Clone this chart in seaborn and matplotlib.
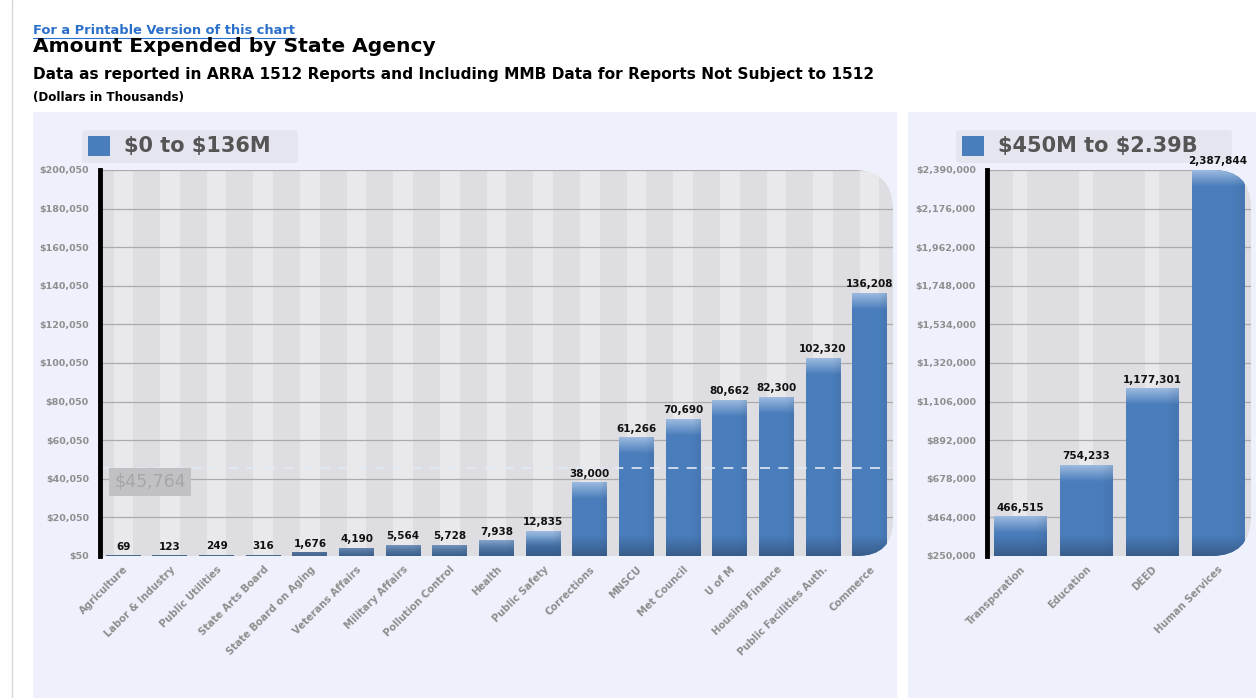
import numpy as np
import pandas as pd
import matplotlib
matplotlib.use("Agg")
import matplotlib.pyplot as plt
import seaborn as sns
from matplotlib.patches import Rectangle, FancyBboxPatch, PathPatch
from matplotlib.path import Path
from matplotlib.transforms import IdentityTransform
from matplotlib.colors import to_rgb

# ---------------- data ----------------
small_agencies = ["Agriculture", "Labor & Industry", "Public Utilities", "State Arts Board",
                  "State Board on Aging", "Veterans Affairs", "Military Affairs", "Pollution Control",
                  "Health", "Public Safety", "Corrections", "MNSCU", "Met Council", "U of M",
                  "Housing Finance", "Public Facilities Auth.", "Commerce"]
small_values = [69, 123, 249, 316, 1676, 4190, 5564, 5728, 7938, 12835, 38000, 61266,
                70690, 80662, 82300, 102320, 136208]
large_agencies = ["Transporation", "Education", "DEED", "Human Services"]
large_values = [466515, 754233, 1177301, 2387844]
small_ticks = [50, 20050, 40050, 60050, 80050, 100050, 120050, 140050, 160050, 180050, 200050]
large_ticks = [250000, 464000, 678000, 892000, 1106000, 1320000, 1534000, 1748000, 1962000,
               2176000, 2390000]
mean_value = 45764
mean_label = "$45,764"
left_legend = "$0 to $136M"
right_legend = "$450M to $2.39B"

W, H = 1256, 698
DPI = 100
fig = plt.figure(figsize=(W / DPI, H / DPI), dpi=DPI, facecolor="white")
sns.set_style("white")
plt.rcParams["font.family"] = ["DejaVu Sans"]
plt.rcParams["text.parse_math"] = False

BLUE = "#4a7dbb"
LIGHT = "#a3c0e3"
DARK = "#33557f"
PANEL = "#eef0fb"
TICKC = "#8e8e8e"
STRIPE_L = "#e9e9ec"
STRIPE_D = "#dedee2"


def fx(px):
    return px / W


def fy(py):
    return 1 - py / H


# panel backgrounds
fig.patches.append(Rectangle((fx(33), 0), fx(897 - 33), fy(112), transform=fig.transFigure,
                             facecolor=PANEL, edgecolor="none", zorder=0))
fig.patches.append(Rectangle((fx(908), 0), fx(1256 - 908), fy(112), transform=fig.transFigure,
                             facecolor=PANEL, edgecolor="none", zorder=0))
fig.lines.append(plt.Line2D([fx(12), fx(12)], [0, 1], transform=fig.transFigure,
                            color="#d8d8d8", lw=1))

# header texts
fig.text(fx(33), fy(31), "For a Printable Version of this chart", fontsize=9.4, fontweight="bold",
         color="#2a6fc9", va="center", ha="left")
fig.lines.append(plt.Line2D([fx(33), fx(296)], [fy(38), fy(38)], transform=fig.transFigure,
                            color="#2a6fc9", lw=0.8))
fig.text(fx(33), fy(47), "Amount Expended by State Agency", fontsize=14.6, fontweight="bold",
         color="black", va="center", ha="left")
fig.text(fx(33), fy(74), "Data as reported in ARRA 1512 Reports and Including MMB Data for Reports Not Subject to 1512",
         fontsize=11.1, fontweight="bold", color="black", va="center", ha="left")
fig.text(fx(33), fy(98), "(Dollars in Thousands)", fontsize=8.6, fontweight="bold",
         color="black", va="center", ha="left")


def legend_box(x0, x1, label):
    fig.patches.append(FancyBboxPatch((fx(x0), fy(163)), fx(x1 - x0), fy(130) - fy(163),
                                      boxstyle="round,pad=0,rounding_size=0.004",
                                      transform=fig.transFigure, facecolor="#e4e5ee",
                                      edgecolor="none", zorder=1))
    fig.patches.append(Rectangle((fx(x0 + 6), fy(156)), fx(22), fy(136) - fy(156),
                                 transform=fig.transFigure, facecolor=BLUE,
                                 edgecolor="none", zorder=2))
    fig.text(fx(x0 + 42), fy(146), label, fontsize=15, fontweight="bold", color="#555555",
             va="center", ha="left", zorder=3)


legend_box(82, 298, left_legend)
legend_box(956, 1232, right_legend)


def rounded_path(x0, x1, ytop, ybot, rt, rb):
    # pixel coords (origin top-left) -> display coords (origin bottom-left)
    t, b = H - ytop, H - ybot
    verts = [(x0, b), (x1 - rb, b), (x1, b), (x1, b + rb), (x1, t - rt), (x1, t),
             (x1 - rt, t), (x0, t), (x0, b)]
    codes = [Path.MOVETO, Path.LINETO, Path.CURVE3, Path.CURVE3, Path.LINETO, Path.CURVE3,
             Path.CURVE3, Path.LINETO, Path.CLOSEPOLY]
    return Path(verts, codes)


def draw_panel(rect_px, cats, vals, ticks, width, light_w, rt, rb):
    x0, x1, ytop, ybot = rect_px
    ax = fig.add_axes([fx(x0), fy(ybot), fx(x1 - x0), fy(ytop) - fy(ybot)])
    ax.set_zorder(5)
    ax.patch.set_visible(False)
    clip = PathPatch(rounded_path(x0, x1, ytop, ybot, rt, rb), transform=IdentityTransform(),
                     facecolor="none", edgecolor="none")
    df = pd.DataFrame({"agency": cats, "value": vals})
    n = len(cats)
    clipped = []
    clipped.append(ax.axvspan(-0.5, n - 0.5, color=STRIPE_D, lw=0, zorder=0))
    for i in range(n):
        clipped.append(ax.axvspan(i - light_w / 2, i + light_w / 2, color=STRIPE_L, lw=0, zorder=0.5))
    for t in ticks[1:]:
        clipped.append(ax.axhline(t, color="#ababad", lw=0.9, zorder=1))
    sns.barplot(data=df, x="agency", y="value", color=BLUE, width=width, ax=ax,
                saturation=1, zorder=3, edgecolor="none")
    span = ticks[-1] - ticks[0]
    hpx = ybot - ytop
    base, lt, dk = np.array(to_rgb(BLUE)), np.array(to_rgb(LIGHT)), np.array(to_rgb(DARK))
    for p in list(ax.patches):
        h = p.get_height()
        clipped.append(p)
        if h <= ticks[0]:
            continue
        bar_px = max(2, int(round((h - ticks[0]) / span * hpx)))
        rows = np.arange(bar_px)
        img = np.tile(base, (bar_px, 1))
        ft = np.clip(1 - rows / 16.0, 0, 1)[:, None] * 0.9
        fb = np.clip(1 - (bar_px - 1 - rows) / 20.0, 0, 1)[:, None] * 0.8
        img = img * (1 - ft) + lt * ft
        img = img * (1 - fb) + dk * fb
        cols = np.linspace(0, 1, 12)
        hshade = np.clip((cols - 0.8) / 0.2, 0, 1) * 0.15
        img3 = img[:, None, :] * (1 - hshade[None, :, None]) + dk[None, None, :] * hshade[None, :, None]
        im = ax.imshow(img3, extent=(p.get_x(), p.get_x() + p.get_width(), ticks[0], h),
                       origin="upper", aspect="auto", interpolation="bilinear", zorder=3.5)
        clipped.append(im)
    for art in clipped:
        art.set_clip_path(clip)
    for i, v in enumerate(vals):
        ax.annotate(f"{v:,}", (i, v), xytext=(0, 3), textcoords="offset points",
                    ha="center", va="bottom", fontsize=7.5, fontweight="bold",
                    color="#111111", zorder=6, annotation_clip=False)
    ax.set_xlim(-0.5, n - 0.5)
    ax.set_ylim(ticks[0], ticks[-1])
    ax.set_aspect("auto")
    ax.set_yticks(ticks)
    ax.set_yticklabels([f"${t:,}" for t in ticks], fontsize=6.8, fontweight="bold", color=TICKC)
    ax.tick_params(axis="y", length=0, pad=8)
    ax.tick_params(axis="x", length=4, width=2, color="black", direction="out", pad=2)
    ax.set_xticks(range(n))
    ax.set_xticklabels(cats, rotation=45, ha="right", rotation_mode="anchor",
                       fontsize=7.2, fontweight="bold", color=TICKC)
    ax.set_xlabel("")
    ax.set_ylabel("")
    for s in ["top", "right", "bottom"]:
        ax.spines[s].set_visible(False)
    ax.spines["left"].set_color("black")
    ax.spines["left"].set_linewidth(3.5)
    ax.spines["left"].set_zorder(7)
    return ax, clip


axL, clipL = draw_panel((100, 893, 170, 556), small_agencies, small_values, small_ticks,
                        0.75, 0.42, 40, 36)
axR, clipR = draw_panel((987, 1251, 170, 556), large_agencies, large_values, large_ticks,
                        0.79, 0.22, 38, 40)

# mean line and label
ml = axL.axhline(mean_value, color="#e2e9f4", lw=1.2, ls=(0, (6, 5)), zorder=5)
ml.set_clip_path(clipL)
axL.annotate(mean_label, (0, mean_value), xycoords=axL.get_yaxis_transform(),
             xytext=(14, -5), textcoords="offset pixels",
             fontsize=12.5, color="#a6a6a9", va="top", ha="left", zorder=6,
             bbox=dict(boxstyle="square,pad=0.3", facecolor="#c1c1c5", edgecolor="none"))

fig.savefig("out.png", dpi=DPI, facecolor="white")
